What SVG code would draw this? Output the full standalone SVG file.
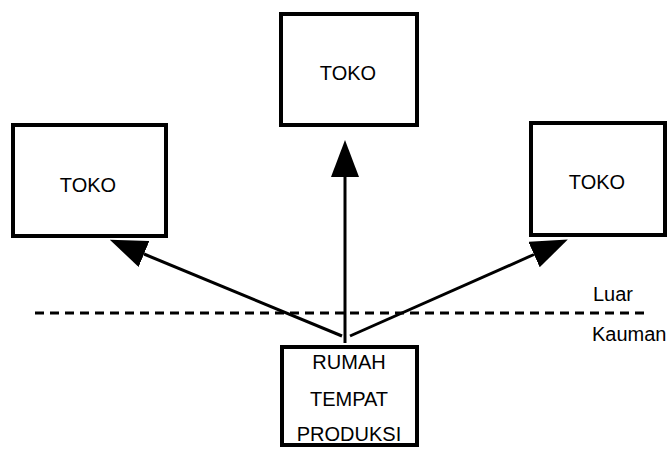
<svg xmlns="http://www.w3.org/2000/svg" width="670" height="449" viewBox="0 0 670 449">
<style>
.box{fill:#fff;stroke:#000;stroke-width:4}
.lbl{font-family:"Liberation Sans",Arial,sans-serif;font-size:20px;fill:#000;text-anchor:middle}
.side{font-family:"Liberation Sans",Arial,sans-serif;font-size:20px;fill:#000}
.conn{stroke:#000;stroke-width:3;fill:none}
</style>
<defs>
<marker id="ah" markerUnits="userSpaceOnUse" markerWidth="40" markerHeight="30" refX="0" refY="14" orient="auto">
<path d="M0,0 L37,14 L0,28 Z" fill="#000"/>
</marker>
</defs>
<rect width="670" height="449" fill="#fff"/>
<g id="boundary">
<line x1="35" y1="313" x2="646" y2="313" stroke="#000" stroke-width="3" stroke-dasharray="9 6"/>
<text class="side" x="593" y="301">Luar</text>
<text class="side" x="592" y="341">Kauman</text>
</g>
<g id="connectors">
<line class="conn" x1="342" y1="336" x2="144" y2="254" marker-end="url(#ah)"/>
<line class="conn" x1="345" y1="343" x2="345" y2="177" marker-end="url(#ah)"/>
<line class="conn" x1="350" y1="336" x2="534" y2="254.5" marker-end="url(#ah)"/>
</g>
<g id="toko-top">
<rect class="box" x="281" y="14" width="136" height="111"/>
<text class="lbl" x="348" y="80">TOKO</text>
</g>
<g id="toko-left">
<rect class="box" x="13" y="125" width="153" height="111"/>
<text class="lbl" x="88" y="192">TOKO</text>
</g>
<g id="toko-right">
<rect class="box" x="531" y="123" width="134" height="112"/>
<text class="lbl" x="597" y="189">TOKO</text>
</g>
<g id="rumah">
<rect class="box" x="282" y="347" width="135" height="98"/>
<text class="lbl" x="349" y="369">RUMAH</text>
<text class="lbl" x="349" y="406">TEMPAT</text>
<text class="lbl" x="349" y="441">PRODUKSI</text>
</g>
</svg>
